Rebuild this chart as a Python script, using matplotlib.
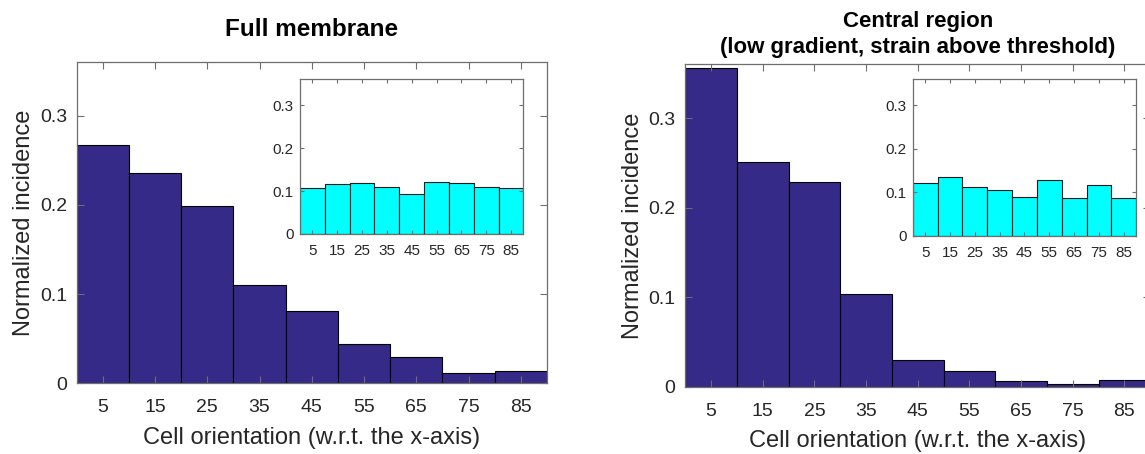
import matplotlib
matplotlib.use("Agg")
import matplotlib.pyplot as plt
import numpy as np

# ---- data ----
bin_centers = [5, 15, 25, 35, 45, 55, 65, 75, 85]
tick_labels = ["5", "15", "25", "35", "45", "55", "65", "75", "85"]
full_main = [0.267, 0.236, 0.199, 0.110, 0.081, 0.044, 0.030, 0.0115, 0.014]
full_inset = [0.106, 0.116, 0.119, 0.109, 0.093, 0.121, 0.118, 0.109, 0.106]
central_main = [0.356, 0.251, 0.229, 0.104, 0.030, 0.018, 0.006, 0.0027, 0.0072]
central_inset = [0.122, 0.136, 0.113, 0.105, 0.089, 0.129, 0.088, 0.118, 0.086]
ytick_vals = [0, 0.1, 0.2, 0.3]
ytick_labels = ["0", "0.1", "0.2", "0.3"]
titles = ["Full membrane", "Central region\n(low gradient, strain above threshold)"]
xlabel_text = "Cell orientation (w.r.t. the x-axis)"
ylabel_text = "Normalized incidence"

plt.rcParams['font.family'] = ['Liberation Sans', 'DejaVu Sans']

MAIN_COLOR = "#352a87"
INSET_COLOR = "#00ffff"
TXT = "#262626"
AX = "#6e6e6e"

fig = plt.figure(figsize=(11.45, 4.54), dpi=100)

def style(ax, fs, ticklen=4):
    ax.set_xlim(0, 90)
    ax.set_ylim(0, 0.36)
    ax.set_xticks(bin_centers)
    ax.set_xticklabels(tick_labels)
    ax.set_yticks(ytick_vals)
    ax.set_yticklabels(ytick_labels)
    ax.tick_params(direction="in", top=True, right=True, length=ticklen,
                   width=0.8, color=AX, labelcolor=TXT, labelsize=fs)
    for s in ax.spines.values():
        s.set_color(AX)
        s.set_linewidth(0.9)

main_pos = [[0.0670, 0.1557, 0.4107, 0.7077], [0.5985, 0.1482, 0.4061, 0.7102]]
inset_pos = [[0.2620, 0.4846, 0.1952, 0.3407], [0.7971, 0.4802, 0.1952, 0.3458]]
title_pads = [18.5, 8.0]
title_sizes = [17.5, 16.0]
mains = [full_main, central_main]
insets = [full_inset, central_inset]

for i in range(2):
    ax = fig.add_axes(main_pos[i])
    ax.bar(bin_centers, mains[i], width=10, color=MAIN_COLOR, edgecolor="black", linewidth=0.8)
    style(ax, 14, ticklen=5)
    ax.tick_params(axis="x", pad=11.5)
    ax.tick_params(axis="y", pad=7)
    ax.set_xlabel(xlabel_text, fontsize=17, color=TXT, labelpad=7.5)
    ax.set_ylabel(ylabel_text, fontsize=17, color=TXT, labelpad=3.5)
    ax.set_title(titles[i], fontsize=title_sizes[i], fontweight="bold", color="black",
                 pad=title_pads[i], linespacing=1.35)

    ins = fig.add_axes(inset_pos[i])
    ins.bar(bin_centers, insets[i], width=10, color=INSET_COLOR, edgecolor="#1a1a1a", linewidth=0.8)
    style(ins, 11, ticklen=3)
    ins.tick_params(axis="x", pad=7)
    ins.tick_params(axis="y", pad=4.5)

fig.savefig("out.png", dpi=100)
